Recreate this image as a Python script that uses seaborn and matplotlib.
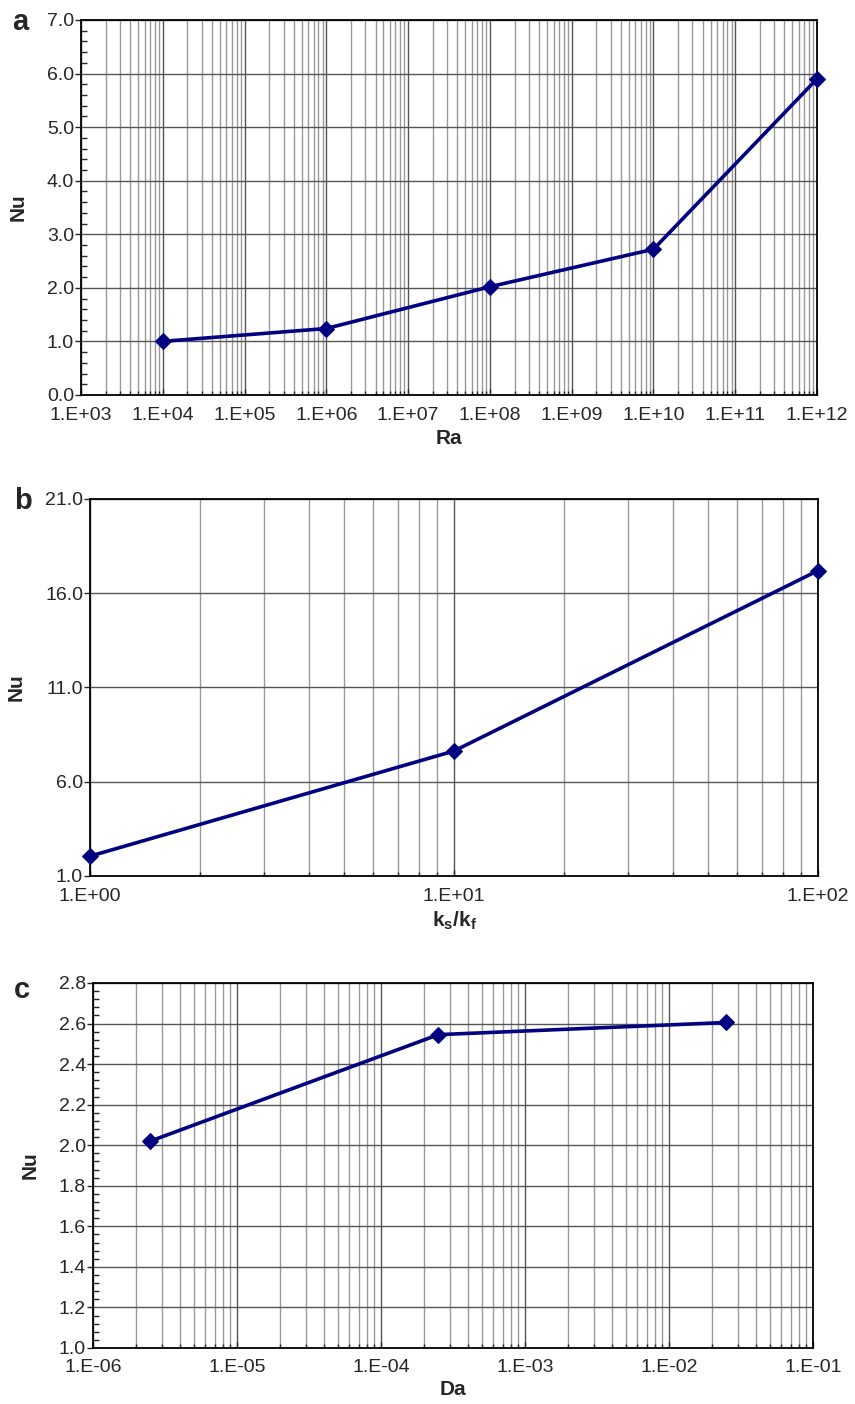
import numpy as np
import pandas as pd
import matplotlib
matplotlib.use("Agg")
import matplotlib.pyplot as plt
import seaborn as sns
from matplotlib.ticker import FuncFormatter, NullFormatter, MultipleLocator, FixedLocator

# ---- data ----
ra = [1e4, 1e6, 1e8, 1e10, 1e12]
nu_ra = [1.0, 1.24, 2.02, 2.72, 5.9]

ks_kf = [1.0, 10.0, 100.0]
nu_k = [2.05, 7.63, 17.2]

da = [2.5e-6, 2.5e-4, 2.5e-2]
nu_da = [2.02, 2.545, 2.605]

sns.set_style("white")
plt.rcParams['font.family'] = ['Liberation Sans', 'DejaVu Sans']
plt.rcParams['mathtext.fontset'] = 'custom'
plt.rcParams['mathtext.rm'] = 'Liberation Sans'
plt.rcParams['mathtext.bf'] = 'Liberation Sans:bold'
plt.rcParams['mathtext.it'] = 'Liberation Sans:italic'

NAVY = '#000080'

fig = plt.figure(figsize=(8.55, 14.04), dpi=100)
ax_a = fig.add_axes([0.0947, 0.7187, 0.8609, 0.2671])
ax_b = fig.add_axes([0.1053, 0.3761, 0.8514, 0.2685])
ax_c = fig.add_axes([0.1088, 0.0399, 0.8421, 0.2600])


def sci_fmt(v, pos):
    if v <= 0:
        return ''
    e = int(round(np.log10(v)))
    return f"1.E{e:+03d}"


def style(ax, e0, e1, ylim, ymajor, yminor, xlabel, ylabelpad, xpad):
    ax.set_xscale('log')
    ax.set_xlim(10.0 ** e0, 10.0 ** e1)
    ax.set_ylim(*ylim)
    majors = [10.0 ** e for e in range(e0, e1 + 1)]
    minors = [m * 10.0 ** e for e in range(e0, e1) for m in range(2, 10)]
    ax.xaxis.set_major_locator(FixedLocator(majors))
    ax.xaxis.set_minor_locator(FixedLocator(minors))
    ax.xaxis.set_major_formatter(FuncFormatter(sci_fmt))
    ax.xaxis.set_minor_formatter(NullFormatter())
    ax.yaxis.set_major_locator(FixedLocator(ymajor))
    ax.yaxis.set_major_formatter(FuncFormatter(lambda v, p: f"{v:.1f}"))
    if yminor:
        ax.yaxis.set_minor_locator(MultipleLocator(yminor))
    else:
        ax.yaxis.set_minor_locator(FixedLocator([]))
    ax.set_axisbelow(True)
    ax.grid(which='major', axis='both', color='#555555', lw=1.0)
    ax.grid(which='minor', axis='x', color='#999999', lw=1.0)
    for s in ax.spines.values():
        s.set_color('black')
        s.set_linewidth(1.3)
        s.set_visible(True)
    ax.tick_params(axis='x', which='major', direction='in', length=4, width=1,
                   labelsize=14, pad=xpad, bottom=True, top=False)
    ax.tick_params(axis='x', which='minor', direction='in', length=3, width=1,
                   bottom=True, top=False)
    ax.tick_params(axis='y', which='major', direction='out', length=4, width=1,
                   labelsize=14, pad=1, left=True, right=False)
    ax.tick_params(axis='y', which='minor', direction='in', length=4, width=1,
                   left=True, right=False)
    ax.set_xlabel(xlabel, fontsize=15, fontweight='bold', labelpad=3)
    ax.set_ylabel('Nu', fontsize=15, fontweight='bold', labelpad=ylabelpad)


def draw(ax, x, y, xname):
    df = pd.DataFrame({xname: x, 'Nu': y})
    sns.lineplot(data=df, x=xname, y='Nu', ax=ax, color=NAVY, lw=2.6,
                 marker='D', markersize=8.5, markeredgecolor=NAVY,
                 markerfacecolor=NAVY, estimator=None, sort=False)
    for ln in ax.lines:
        ln.set_clip_on(False)
        ln.set_zorder(5)


draw(ax_a, ra, nu_ra, 'Ra')
style(ax_a, 3, 12, (0, 7), np.arange(0, 7.01, 1.0), 0.2, 'Ra', 14, 9)

draw(ax_b, ks_kf, nu_k, 'ks/kf')
style(ax_b, 0, 2, (1, 21), [1, 6, 11, 16, 21], None,
      r'$\mathbf{k}_\mathbf{s}\mathbf{/k}_\mathbf{f}$', 14, 9)

draw(ax_c, da, nu_da, 'Da')
style(ax_c, -6, -1, (1.0, 2.8), np.arange(1.0, 2.81, 0.2), 0.04, 'Da', 14, 8)

fig.text(0.014, 0.994, 'a', fontsize=21, fontweight='bold', va='top', ha='left')
fig.text(0.016, 0.653, 'b', fontsize=21, fontweight='bold', va='top', ha='left')
fig.text(0.016, 0.305, 'c', fontsize=21, fontweight='bold', va='top', ha='left')

fig.savefig('out.png', dpi=100)
